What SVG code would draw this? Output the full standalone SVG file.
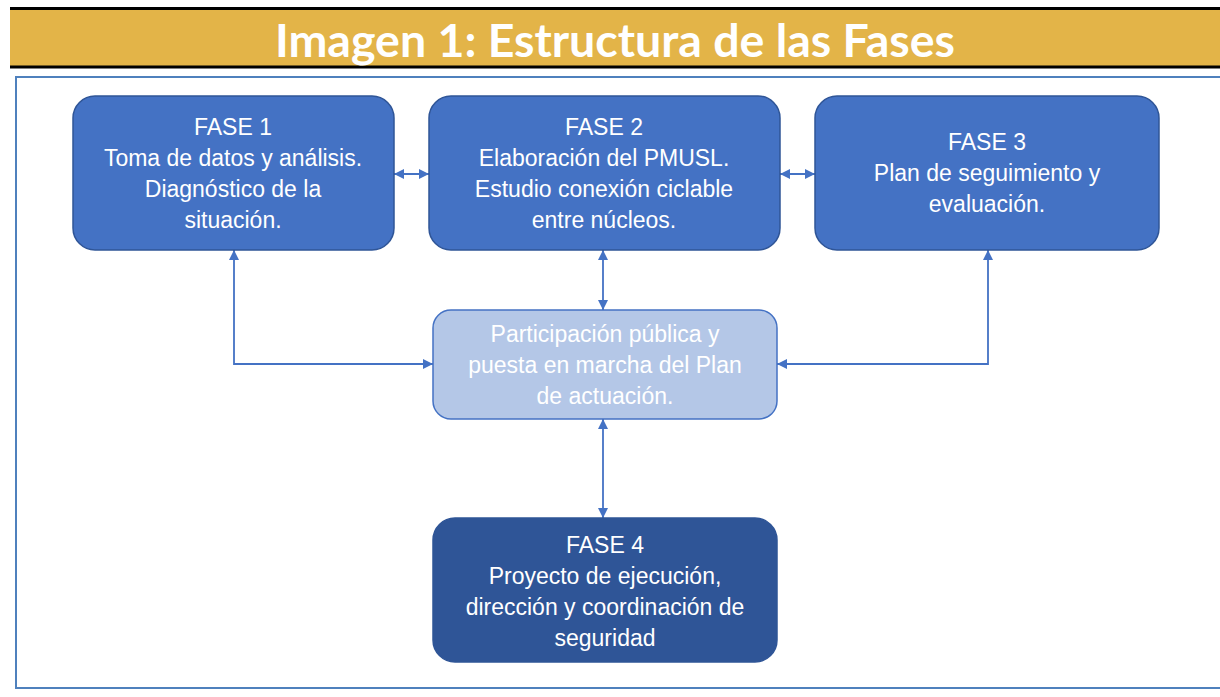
<svg xmlns="http://www.w3.org/2000/svg" width="1220" height="697" viewBox="0 0 1220 697">
<defs>
<style>
.t{font-family:"Liberation Sans",Arial,sans-serif;font-size:23px;fill:#ffffff;text-anchor:middle;dominant-baseline:central}
.box{stroke:#2F5597;stroke-width:1.5}
.c{fill:none;stroke:#4472C4;stroke-width:1.8}
</style>
<marker id="a" viewBox="0 0 10 10" refX="10" refY="5" markerWidth="10" markerHeight="10" markerUnits="userSpaceOnUse" orient="auto-start-reverse"><path d="M0,0L10,5L0,10z" fill="#4472C4"/></marker>
</defs>
<rect width="1220" height="697" fill="#ffffff"/>
<rect x="10" y="8" width="1210" height="59" fill="#E3B448"/>
<line x1="10" y1="8.5" x2="1220" y2="8.5" stroke="#000" stroke-width="3"/>
<line x1="10" y1="67" x2="1220" y2="67" stroke="#000" stroke-width="3"/>
<text x="615" y="40" font-family="Lato,'Liberation Sans',sans-serif" font-weight="bold" font-size="45" fill="#ffffff" text-anchor="middle" dominant-baseline="central" textLength="680" lengthAdjust="spacingAndGlyphs">Imagen 1: Estructura de las Fases</text>
<rect x="16" y="77" width="1210" height="611" fill="none" stroke="#4F81BD" stroke-width="2"/>
<g id="connectors">
<line class="c" x1="394" y1="174" x2="429" y2="174" marker-start="url(#a)" marker-end="url(#a)"/>
<line class="c" x1="780" y1="174" x2="815" y2="174" marker-start="url(#a)" marker-end="url(#a)"/>
<line class="c" x1="603" y1="250" x2="603" y2="310" marker-start="url(#a)" marker-end="url(#a)"/>
<polyline class="c" points="234,250 234,364 433,364" marker-start="url(#a)" marker-end="url(#a)"/>
<polyline class="c" points="988,250 988,364 777,364" marker-start="url(#a)" marker-end="url(#a)"/>
<line class="c" x1="603" y1="419" x2="603" y2="518" marker-start="url(#a)" marker-end="url(#a)"/>
</g>
<g id="fase1">
<rect class="box" x="73" y="96" width="321" height="154" rx="22" fill="#4472C4"/>
<text class="t" x="233" y="127">FASE 1</text>
<text class="t" x="233" y="158">Toma de datos y análisis.</text>
<text class="t" x="233" y="189">Diagnóstico de la</text>
<text class="t" x="233" y="220">situación.</text>
</g>
<g id="fase2">
<rect class="box" x="429" y="96" width="351" height="154" rx="22" fill="#4472C4"/>
<text class="t" x="604" y="127">FASE 2</text>
<text class="t" x="604" y="158">Elaboración del PMUSL.</text>
<text class="t" x="604" y="189">Estudio conexión ciclable</text>
<text class="t" x="604" y="220">entre núcleos.</text>
</g>
<g id="fase3">
<rect class="box" x="815" y="96" width="344" height="154" rx="22" fill="#4472C4"/>
<text class="t" x="987" y="142">FASE 3</text>
<text class="t" x="987" y="173">Plan de seguimiento y</text>
<text class="t" x="987" y="204">evaluación.</text>
</g>
<g id="participacion">
<rect x="433" y="310" width="344" height="109" rx="18" fill="#B4C7E7" stroke="#4472C4" stroke-width="1.5"/>
<text class="t" x="605" y="334" fill="#F2F2F2">Participación pública y</text>
<text class="t" x="605" y="365" fill="#F2F2F2">puesta en marcha del Plan</text>
<text class="t" x="605" y="396" fill="#F2F2F2">de actuación.</text>
</g>
<g id="fase4">
<rect class="box" x="433" y="518" width="344" height="144" rx="22" fill="#2F5597"/>
<text class="t" x="605" y="545">FASE 4</text>
<text class="t" x="605" y="576">Proyecto de ejecución,</text>
<text class="t" x="605" y="607">dirección y coordinación de</text>
<text class="t" x="605" y="638">seguridad</text>
</g>
</svg>
